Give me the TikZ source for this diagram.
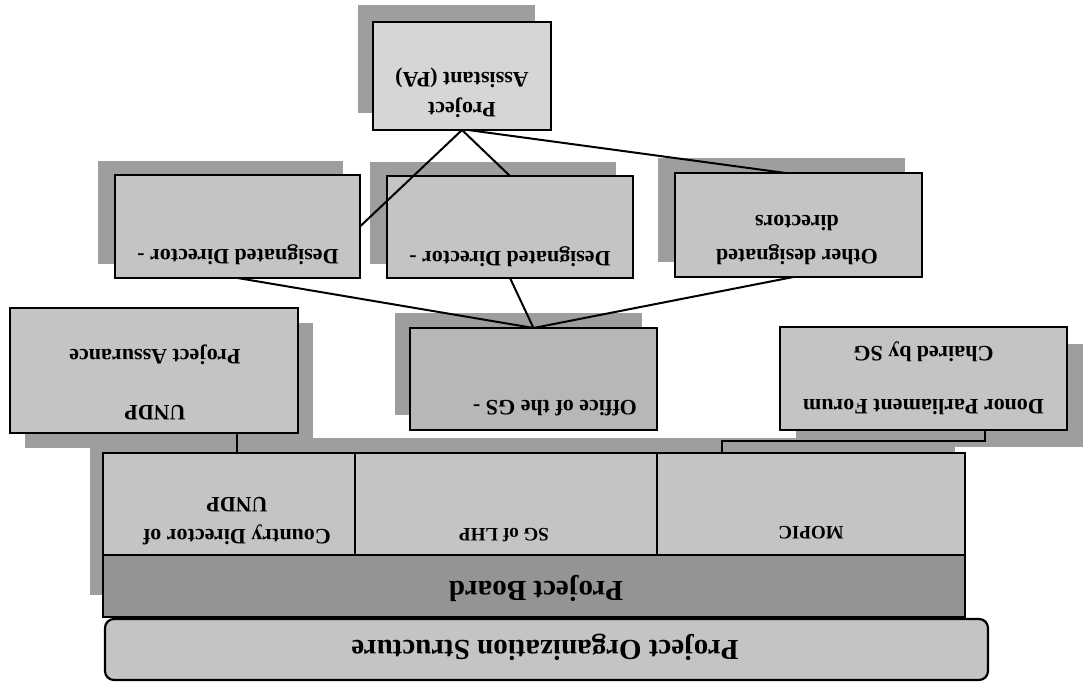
\documentclass[tikz,border=0pt]{standalone}
\usepackage{fontspec}
\setmainfont{Liberation Serif}
\definecolor{shadowgray}{gray}{0.62}
\definecolor{boxgray}{gray}{0.77}
\definecolor{lightbox}{gray}{0.84}
\definecolor{boardgray}{gray}{0.58}
\tikzset{
  shadowrect/.style={fill=shadowgray, draw=none},
  box/.style={draw=black, line width=2.2pt, fill=boxgray, inner sep=0pt, outer sep=0pt},
  conn/.style={draw=black, line width=2pt},
  lbl/.style={rotate=180, inner sep=0pt, font=\bfseries\fontsize{22}{26}\selectfont},
  smalllbl/.style={rotate=180, inner sep=0pt, font=\bfseries\fontsize{19}{23}\selectfont},
  biglbl/.style={rotate=180, inner sep=0pt, font=\bfseries\fontsize{29}{34}\selectfont}
}
\begin{document}
\begin{tikzpicture}[x=1pt, y=-1pt]
\useasboundingbox (0,0) rectangle (1088,684);
% shadows
\fill[shadowrect] (358,5) rectangle (535,113);
\fill[shadowrect] (98,161) rectangle (343,264);
\fill[shadowrect] (370,162) rectangle (616,264);
\fill[shadowrect] (658,158) rectangle (905,262);
\fill[shadowrect] (395,313) rectangle (642,415);
\fill[shadowrect] (25,323) rectangle (313,448);
\fill[shadowrect] (796,344) rectangle (1083,447);
\fill[shadowrect] (90,438) rectangle (955,595);
% boxes
\node[box, fill=lightbox, minimum width=178pt, minimum height=108pt] (pa) at (462,76) {};
\node[box, minimum width=245pt, minimum height=103pt] (dd1) at (237.5,226.5) {};
\node[box, minimum width=246pt, minimum height=102pt] (dd2) at (510,227) {};
\node[box, minimum width=247pt, minimum height=104pt] (dd3) at (798.5,225) {};
\node[box, fill=gray!20!boxgray, minimum width=247pt, minimum height=102pt] (office) at (533.5,379) {};
\node[box, minimum width=288pt, minimum height=125pt] (undp) at (154,370.5) {};
\node[box, minimum width=287pt, minimum height=103pt] (donor) at (923.5,378.5) {};
\node[box, minimum width=252pt, minimum height=102pt] (cd) at (229,504) {};
\node[box, minimum width=302pt, minimum height=102pt] (sg) at (506,504) {};
\node[box, minimum width=308pt, minimum height=102pt] (mopic) at (811,504) {};
\node[box, fill=boardgray, minimum width=862pt, minimum height=62pt] (board) at (534,586) {};
\node[box, rounded corners=9pt, minimum width=883pt, minimum height=61pt] (pos) at (546.5,649.5) {};
% texts
\node[lbl] (pat1) at (462,108) {Project};
\node[lbl] (pat2) at (462,78) {Assistant (PA)};
\node[lbl] (dd1t) at (238,255) {Designated Director -};
\node[lbl] (dd2t) at (510,257) {Designated Director -};
\node[lbl] (dd3t1) at (797,255) {Other designated};
\node[lbl] (dd3t2) at (797,223) {directors};
\node[lbl] (offt) at (555,408) {Office of the GS -};
\node[lbl] (undpt1) at (155,413) {UNDP};
\node[lbl] (undpt2) at (155,355) {Project Assurance};
\node[lbl] (donort1) at (923.5,407) {Donor Parliament Forum};
\node[lbl] (donort2) at (923.5,352) {Chaired by SG};
\node[lbl] (cdt1) at (237,535) {Country Director of};
\node[lbl] (cdt2) at (237,505) {UNDP};
\node[smalllbl] (sgt) at (504,535) {SG of LHP};
\node[smalllbl] (mopict) at (811,533) {MOPIC};
\node[biglbl] (boardt) at (536,588) {Project Board};
\node[biglbl] (post) at (545,647) {Project Organization Structure};
% connectors
\draw[conn] (pa.south) -- (dd1.east);
\draw[conn] (pa.south) -- (dd2.north);
\draw[conn] ([xshift=6pt]pa.south) -- ([xshift=-13pt]dd3.north);
\draw[conn] (office.north) -- (dd1.south);
\draw[conn] (office.north) -- (dd2.south);
\draw[conn] (office.north) -- ([xshift=-5pt]dd3.south);
\draw[conn] (undp.south -| cdt1) -- (cd.north -| cdt1);
\draw[conn] ([xshift=61.5pt]donor.south) -- ++(0,11) -| ([xshift=-89pt]mopic.north);
\end{tikzpicture}
\end{document}
